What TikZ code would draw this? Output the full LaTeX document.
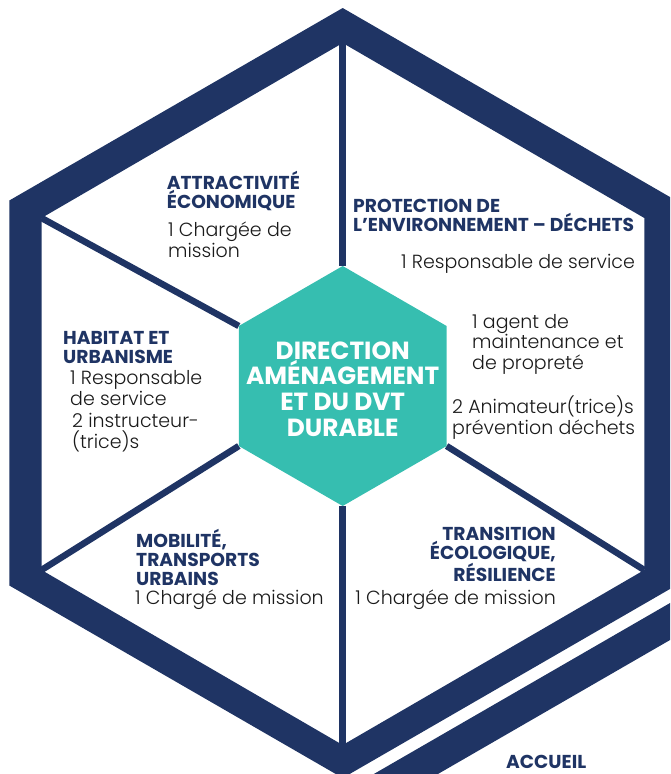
\documentclass[tikz,border=0pt]{standalone}
\usepackage{fontspec}
\setmainfont{Poppins}
\newfontfamily\lightfont{Poppins Light}
\definecolor{navy}{HTML}{1F3464}
\definecolor{tealc}{HTML}{36BEB0}
\definecolor{ink}{HTML}{1A1A1A}
\begin{document}
\begin{tikzpicture}[x=1pt,y=-1pt,
  head/.style={inner sep=0pt, text=navy, font=\fontsize{18.7}{19}\selectfont\bfseries, align=left},
  body/.style={inner sep=0pt, text=ink, font=\lightfont\fontsize{19}{20.5}\selectfont, align=left},
  spoke/.style={draw=navy, line width=6.5pt}]
\useasboundingbox (0,0) rectangle (670,774);
\begin{scope}
\clip (0,0) rectangle (670,774);
\fill[navy, even odd rule] (342.7,8) -- (676,200.5) -- (676,585.5) -- (342.7,778) -- (9.3,585.5) -- (9.3,200.5) -- cycle
  (342.7,43) -- (644.3,218) -- (644.3,570) -- (342.7,745) -- (41.5,570) -- (41.5,218) -- cycle;
\fill[navy] (700,585.7) -- (328.8,800) -- (392.9,800) -- (700,622.7) -- cycle;
\end{scope}
% inner corners
\coordinate (it) at (342.7,43);
\coordinate (iul) at (41.5,218);
\coordinate (ill) at (41.5,570);
\coordinate (ib) at (342.7,745);
\coordinate (ilr) at (644.3,570);
% centre hexagon corners
\coordinate (ht) at (342.7,266);
\coordinate (hur) at (446.6,326);
\coordinate (hlr) at (446.6,446);
\coordinate (hb) at (342.7,506);
\coordinate (hll) at (238.8,446);
\coordinate (hul) at (238.8,326);
\draw[spoke] (it) -- (ht);
\draw[spoke] (iul) -- (hul);
\draw[spoke] (ill) -- (hll);
\draw[spoke] (ib) -- (hb);
\draw[spoke] (ilr) -- (hlr);
\fill[tealc] (ht) -- (hur) -- (hlr) -- (hb) -- (hll) -- (hul) -- cycle;
\node[inner sep=0pt, text=white, align=center, font=\fontsize{24.8}{25.8}\selectfont\bfseries] (dir) at (342.7,389.1) {DIRECTION\\AMÉNAGEMENT\\ET DU DVT\\DURABLE};
% texts (base = baseline of the last line)
\node[head, anchor=base west] (hAttr) at (166.7,208.3) {ATTRACTIVITÉ\\ÉCONOMIQUE};
\node[body, anchor=base west] (bAttr) at (168,257) {1 Chargée de\\mission};
\node[head, anchor=base west] (hProt) at (353,231.5) {PROTECTION DE\\L’ENVIRONNEMENT – DÉCHETS};
\node[body, anchor=base west] (bResp) at (401,268.5) {1 Responsable de service};
\node[body, anchor=base west] (bAgent) at (472,369) {1 agent de\\maintenance et\\de propreté};
\node[body, anchor=base west] (bAnim) at (452,434) {2 Animateur(trice)s\\prévention déchets};
\node[head, anchor=base west] (hHab) at (63,363) {HABITAT ET\\URBANISME};
\node[body, anchor=base west] (bHab1) at (70,405) {1 Responsable\\de service};
\node[body, anchor=base west] (bHab2) at (72,448) {2 instructeur-\\(trice)s};
\node[head, anchor=base west] (hMob) at (136,585) {MOBILITÉ,\\TRANSPORTS\\URBAINS};
\node[body, anchor=base west] (bMob) at (135,604) {1 Chargé de mission};
\node[head, anchor=base east, align=right] (hTrans) at (556,581.5) {TRANSITION\\ÉCOLOGIQUE,\\RÉSILIENCE};
\node[body, anchor=base east, align=right] (bTrans) at (556,604) {1 Chargée de mission};
\node[head, anchor=base west] (hAcc) at (506,768) {ACCUEIL};
\end{tikzpicture}
\end{document}
